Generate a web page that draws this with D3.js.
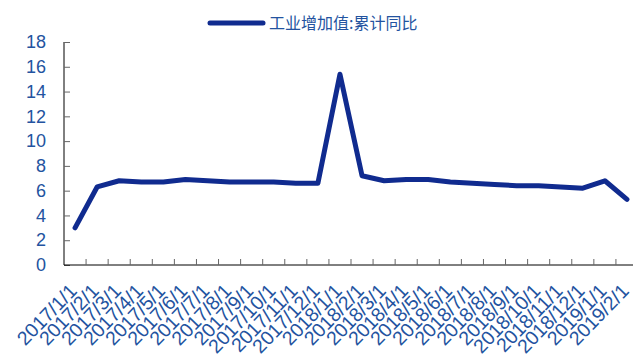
<!DOCTYPE html>
<html>
<head>
<meta charset="utf-8">
<script src="https://cdn.jsdelivr.net/npm/d3@7"></script>
<style>
  body { margin: 0; background: #fff; }
  svg { display: block; }
  .tick text { font-family: "Liberation Sans", Arial, sans-serif; fill: #2353a0; }
</style>
</head>
<body>
<div id="chart"></div>
<script>
const months = ['2017/1/1', '2017/2/1', '2017/3/1', '2017/4/1', '2017/5/1', '2017/6/1', '2017/7/1', '2017/8/1', '2017/9/1', '2017/10/1', '2017/11/1', '2017/12/1',
  '2018/1/1', '2018/2/1', '2018/3/1', '2018/4/1', '2018/5/1', '2018/6/1', '2018/7/1', '2018/8/1', '2018/9/1', '2018/10/1', '2018/11/1', '2018/12/1',
  '2019/1/1', '2019/2/1']
const growth = [3.0, 6.3, 6.8, 6.7, 6.7, 6.9, 6.8, 6.7, 6.7, 6.7, 6.6, 6.6,
  15.4, 7.2, 6.8, 6.9, 6.9, 6.7, 6.6, 6.5, 6.4, 6.4, 6.3, 6.2,
  6.8, 5.3]
const yTicks = [0, 2, 4, 6, 8, 10, 12, 14, 16, 18]
const seriesName = '工业增加值:累计同比'

const width = 633, height = 356
const lineColor = '#102b8f'

const svg = d3.select('#chart').append('svg')
  .attr('width', width)
  .attr('height', height)

// band runs a little past the right edge, as in the original
const x = d3.scaleBand()
  .domain(months)
  .range([64, 638])

const y = d3.scaleLinear()
  .domain([0, 18])
  .range([265, 42])

// y axis
const yAxis = svg.append('g')
  .attr('transform', 'translate(64,0)')
  .call(d3.axisLeft(y).tickValues(yTicks).tickSize(-6).tickPadding(18))
yAxis.select('.domain').attr('stroke', '#000').attr('d', `M0,${y(18)}V${y(0)}`)
yAxis.selectAll('.tick line').attr('stroke', '#666')
yAxis.selectAll('.tick text').style('font-size', '18px')

// x axis, labels at band centres, tick marks on band edges
const xAxis = svg.append('g')
  .attr('transform', `translate(0,${y(0)})`)
  .call(d3.axisBottom(x).tickSize(0))
xAxis.select('.domain').attr('stroke', '#000').attr('d', `M64,0H${width}`)
xAxis.selectAll('.tick text')
  .attr('x', 0)
  .attr('y', 0)
  .attr('dy', 0)
  .attr('transform', 'translate(3,27) rotate(-46)')
  .style('text-anchor', 'end')
  .style('font-size', '19.5px')

xAxis.selectAll('.edge')
  .data(months.slice(1))
  .enter()
  .append('line')
  .attr('class', 'edge')
  .attr('x1', d => x(d))
  .attr('x2', d => x(d))
  .attr('y1', 0)
  .attr('y2', -6)
  .attr('stroke', '#666')

// series
const line = d3.line()
  .x((d, i) => x(months[i]) + x.bandwidth() / 2)
  .y(d => y(d))

svg.append('path')
  .datum(growth)
  .attr('d', line)
  .attr('fill', 'none')
  .attr('stroke', lineColor)
  .attr('stroke-width', 5)
  .attr('stroke-linejoin', 'round')
  .attr('stroke-linecap', 'round')

// legend
const legend = svg.append('g')
legend.append('line')
  .attr('x1', 210).attr('x2', 263)
  .attr('y1', 23).attr('y2', 23)
  .attr('stroke', lineColor)
  .attr('stroke-width', 5)
  .attr('stroke-linecap', 'round')
legend.append('text')
  .attr('x', 269)
  .attr('y', 29)
  .attr('fill', '#2353a0')
  .style('font-family', '"Noto Sans CJK SC", sans-serif')
  .style('font-size', '16px')
  .text(seriesName)
</script>
</body>
</html>
